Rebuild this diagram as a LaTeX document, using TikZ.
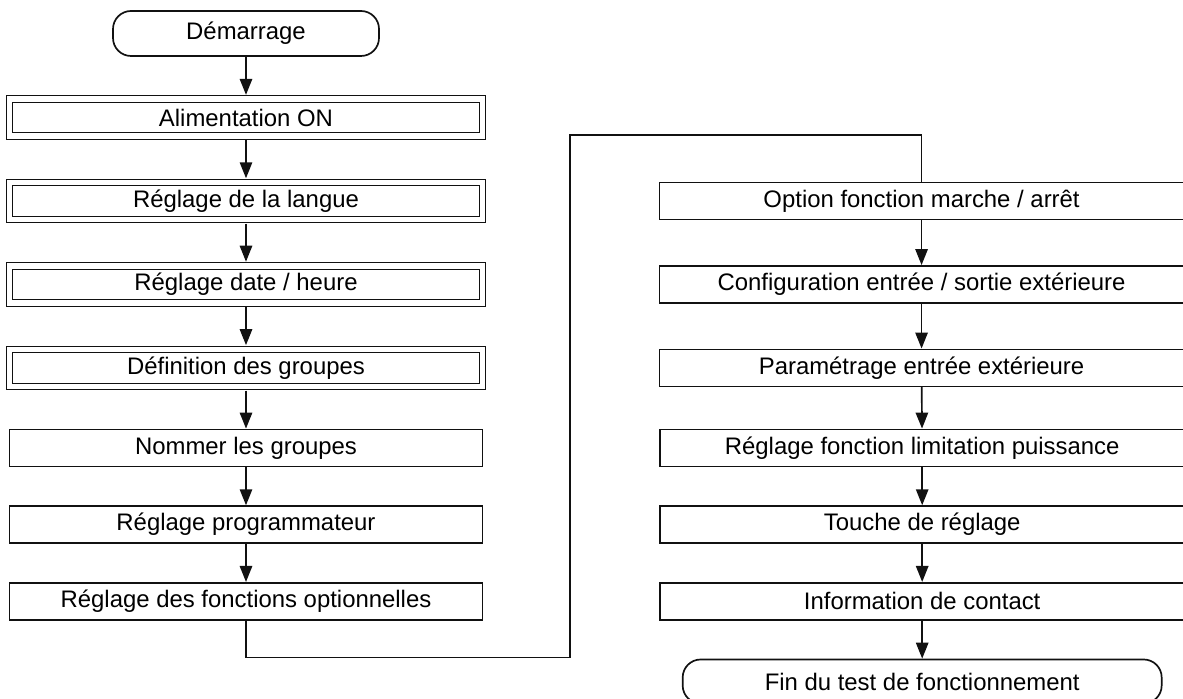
\documentclass[tikz,border=0pt]{standalone}
\usepackage{fontspec}
\setmainfont{Liberation Sans}
\usetikzlibrary{positioning, arrows.meta}
\definecolor{fcInk}{HTML}{111111}
\tikzset{
    fcBoxBase/.style={
        rectangle,
        draw=fcInk,
        line width=1.2pt,
        minimum height=0.925cm,
        inner sep=0pt,
        align=center,
        font=\fontsize{17}{20}\selectfont
    },
    % Step variants
    fcLeft/.style={fcBoxBase, minimum width=11.825cm},
    fcRight/.style={fcBoxBase, minimum width=13.1cm},
    fcDouble/.style={fcLeft, double=white, line width=0.75pt, double distance=3.8pt, outer sep=3pt},
    fcTerminal/.style={fcBoxBase, rounded corners=0.45cm, minimum height=1.125cm},
    % Connectors
    fcArrow/.style={-{Triangle[length=4mm, width=3.1mm]}, line width=1.2pt, draw=fcInk},
    fcLine/.style={line width=1.2pt, draw=fcInk}
}

\begin{document}
\begin{tikzpicture}[node distance=0.95cm]
    \useasboundingbox (0,0) rectangle (29.575,-17.475);

    % first column
    \node[fcTerminal, minimum width=6.65cm] (start) at (6.15,-0.8375) {Démarrage};
    \node[fcDouble, below=of start] (power) {Alimentation ON};
    \node[fcDouble, below=of power] (lang) {Réglage de la langue};
    \node[fcDouble, below=of lang] (clock) {Réglage date / heure};
    \node[fcDouble, below=of clock] (groups) {Définition des groupes};
    \node[fcLeft, below=of groups] (names) {Nommer les groupes};
    \node[fcLeft, below=of names] (timer) {Réglage programmateur};
    \node[fcLeft, below=of timer] (options) {Réglage des fonctions optionnelles};

    % second column
    \node[fcRight, right=4.3cm of lang] (onoff) {Option fonction marche / arrêt};
    \node[fcRight, right=4.3cm of clock] (extio) {Configuration entrée / sortie extérieure};
    \node[fcRight, right=4.3cm of groups] (extin) {Paramétrage entrée extérieure};
    \node[fcRight, right=4.4cm of names] (limit) {Réglage fonction limitation puissance};
    \node[fcRight, right=4.4cm of timer] (key) {Touche de réglage};
    \node[fcRight, right=4.4cm of options] (contact) {Information de contact};
    \node[fcTerminal, minimum width=11.975cm, minimum height=1.1cm, below=of contact] (finish) {Fin du test de fonctionnement};

    \draw[fcArrow] (start) -- (power);
    \draw[fcArrow] (power) -- (lang);
    \draw[fcArrow] (lang) -- (clock);
    \draw[fcArrow] (clock) -- (groups);
    \draw[fcArrow] (groups) -- (names);
    \draw[fcArrow] (names) -- (timer);
    \draw[fcArrow] (timer) -- (options);

    % link between the columns
    \coordinate (turn) at (14.25,-3.375);
    \draw[fcLine] (options.south) -- ++(0,-0.925) -| (turn) -| (onoff.north);

    \draw[fcArrow] (onoff) -- (extio);
    \draw[fcArrow] (extio) -- (extin);
    \draw[fcArrow] (extin) -- (limit);
    \draw[fcArrow] (limit) -- (key);
    \draw[fcArrow] (key) -- (contact);
    \draw[fcArrow] (contact) -- (finish);
\end{tikzpicture}
\end{document}
